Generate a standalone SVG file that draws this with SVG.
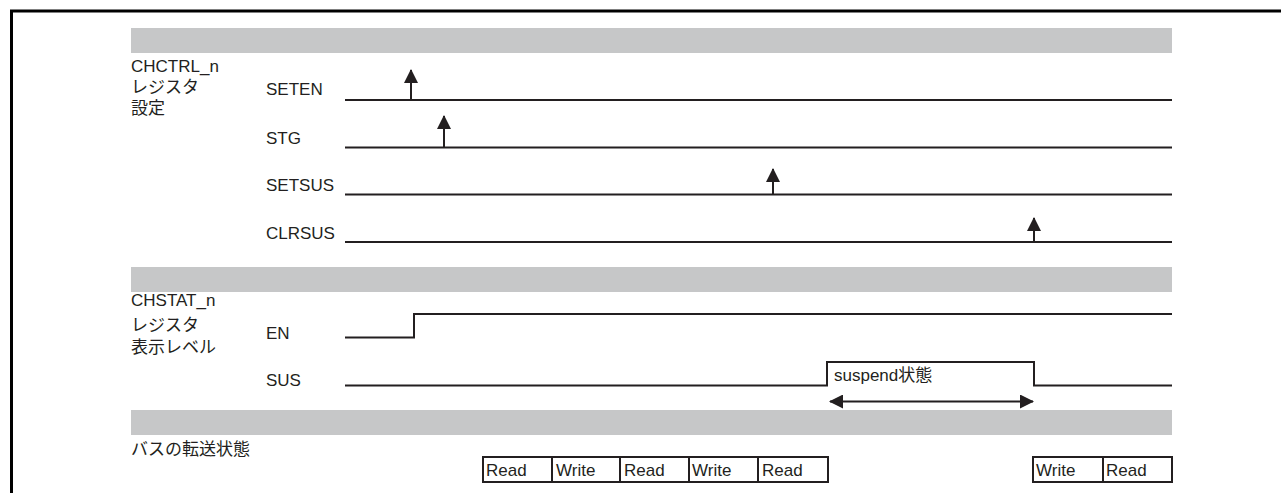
<svg xmlns="http://www.w3.org/2000/svg" width="1281" height="493" viewBox="0 0 1281 493">
<style>
.t{font-family:"Liberation Sans","Noto Sans CJK JP",sans-serif;font-size:17px;fill:#231f20}
.w{fill:none;stroke:#231f20;stroke-width:2}
.bar{fill:#c6c7c8}
.box{fill:#fff;stroke:#231f20;stroke-width:2}
</style>
<defs>
<marker id="ah" viewBox="0 0 14 14" refX="13" refY="7" markerWidth="14" markerHeight="14" markerUnits="userSpaceOnUse" orient="auto">
<path d="M0,0 L14,7 L0,14 Z" fill="#231f20"/>
</marker>
<marker id="as" viewBox="0 0 14 14" refX="13" refY="7" markerWidth="14" markerHeight="14" markerUnits="userSpaceOnUse" orient="auto-start-reverse">
<path d="M0,0 L14,7 L0,14 Z" fill="#231f20"/>
</marker>
</defs>
<rect width="1281" height="493" fill="#fff"/>
<path d="M11.5,493 V11 H1281" fill="none" stroke="#000" stroke-width="3"/>
<g id="bars">
<rect class="bar" x="131" y="28" width="1041" height="25"/>
<rect class="bar" x="131" y="267" width="1041" height="25"/>
<rect class="bar" x="131" y="410" width="1041" height="25"/>
</g>
<g id="group-labels">
<text class="t" x="131" y="71.5">CHCTRL_n</text>
<text class="t" x="131" y="93">レジスタ</text>
<text class="t" x="131" y="114">設定</text>
<text class="t" x="131" y="306">CHSTAT_n</text>
<text class="t" x="131" y="331">レジスタ</text>
<text class="t" x="131" y="353">表示レベル</text>
<text class="t" x="131" y="455">バスの転送状態</text>
</g>
<g id="seten">
<text class="t" x="266" y="95">SETEN</text>
<line class="w" x1="345" y1="100" x2="1172" y2="100"/>
</g>
<g id="stg">
<text class="t" x="266" y="143.5">STG</text>
<line class="w" x1="345" y1="147.5" x2="1172" y2="147.5"/>
</g>
<g id="setsus">
<text class="t" x="266" y="191">SETSUS</text>
<line class="w" x1="345" y1="194.5" x2="1172" y2="194.5"/>
</g>
<g id="clrsus">
<text class="t" x="266" y="239">CLRSUS</text>
<line class="w" x1="345" y1="242" x2="1172" y2="242"/>
</g>
<g id="en">
<text class="t" x="266" y="338.5">EN</text>
<path class="w" d="M345,337.5 H414 V314 H1172"/>
</g>
<g id="sus">
<text class="t" x="266" y="386">SUS</text>
<path class="w" d="M345,385.5 H827 V362 H1034 V385.5 H1172"/>
<text class="t" x="834" y="381">suspend状態</text>
</g>
<g id="bus">
<rect class="box" x="483" y="457" width="345" height="25"/>
<line class="w" x1="552" y1="457" x2="552" y2="482"/>
<line class="w" x1="620" y1="457" x2="620" y2="482"/>
<line class="w" x1="689" y1="457" x2="689" y2="482"/>
<line class="w" x1="758" y1="457" x2="758" y2="482"/>
<text class="t" x="486" y="476">Read</text>
<text class="t" x="556" y="476">Write</text>
<text class="t" x="624" y="476">Read</text>
<text class="t" x="692" y="476">Write</text>
<text class="t" x="762" y="476">Read</text>
<rect class="box" x="1033" y="457" width="139" height="25"/>
<line class="w" x1="1103" y1="457" x2="1103" y2="482"/>
<text class="t" x="1036" y="476">Write</text>
<text class="t" x="1106" y="476">Read</text>
</g>
<g id="connectors">
<line class="w" x1="411" y1="100" x2="411" y2="70" marker-end="url(#ah)"/>
<line class="w" x1="444" y1="147.5" x2="444" y2="116" marker-end="url(#ah)"/>
<line class="w" x1="773" y1="194.5" x2="773" y2="169" marker-end="url(#ah)"/>
<line class="w" x1="1034" y1="242" x2="1034" y2="218" marker-end="url(#ah)"/>
<line class="w" x1="830" y1="401.5" x2="1033" y2="401.5" marker-start="url(#as)" marker-end="url(#ah)"/>
</g>
</svg>
